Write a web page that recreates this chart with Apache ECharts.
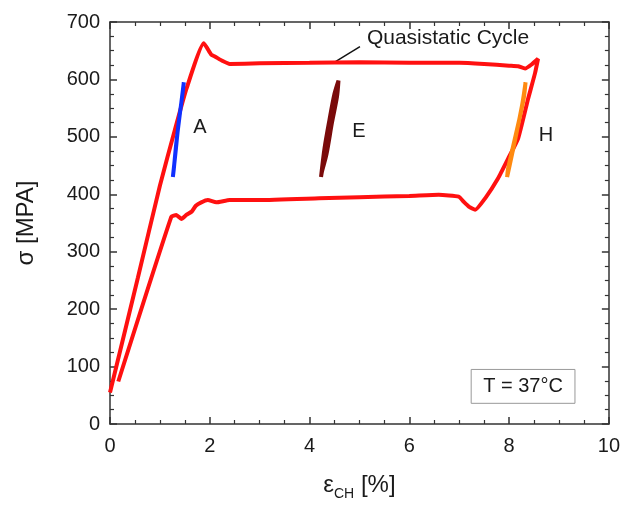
<!DOCTYPE html>
<html>
<head>
<meta charset="utf-8">
<script src="https://cdn.jsdelivr.net/npm/echarts@6/dist/echarts.min.js"></script>
<style>
  html, body { margin: 0; padding: 0; background: #fff; }
  #chart { width: 623px; height: 506px; }
</style>
</head>
<body>
<div id="chart"></div>
<script>
// quasistatic cycle: strain [%] / stress [MPa], walked around the loop
var cycleStrain = [0, 0.56, 1.0, 1.30, 1.53, 1.88, 2.03, 2.10, 2.26, 2.4, 3, 4, 5, 6, 7, 7.5, 8.0, 8.18, 8.32, 8.45, 8.58,
  8.52, 8.38, 8.18, 7.98, 7.78, 7.52, 7.32, 7.2, 7.09, 6.99, 6.59, 6, 5, 4.19, 3, 2.4, 2.13, 1.96, 1.83, 1.72, 1.64, 1.53, 1.43, 1.33, 1.23, 0.166];
var cycleStress = [55, 255, 415, 512, 583, 663, 643, 640, 632, 627, 628, 629, 630, 629, 629, 627, 624, 623, 619, 626, 636,
  611, 566, 497, 462, 428, 393, 373, 378, 387, 396, 399, 397, 395, 393, 390, 390, 386, 390, 386, 380, 370, 364, 357, 364, 361, 74];

// small loops A, E, H
var loopAStrain = [1.26, 1.31, 1.37, 1.43, 1.48, 1.46, 1.40, 1.33, 1.28, 1.26];
var loopAStress = [430, 470, 520, 560, 595, 580, 540, 490, 445, 430];
var loopEStrain = [4.23, 4.30, 4.40, 4.50, 4.58, 4.55, 4.45, 4.34, 4.25, 4.23];
var loopEStress = [430, 480, 530, 575, 598, 570, 525, 470, 440, 430];
var loopHStrain = [7.96, 8.06, 8.18, 8.27, 8.33, 8.29, 8.19, 8.07, 7.98, 7.96];
var loopHStress = [430, 470, 520, 560, 595, 565, 525, 480, 445, 430];

var xTicks = [0, 2, 4, 6, 8, 10];
var yTicks = [0, 100, 200, 300, 400, 500, 600, 700];

function pairs(xs, ys) {
  var out = [];
  for (var i = 0; i < xs.length; i++) out.push([xs[i], ys[i]]);
  return out;
}

var font = '"Liberation Sans", Arial, sans-serif';
var ink = '#1a1a1a';
var chart = echarts.init(document.getElementById('chart'));

function axisBase(extra) {
  var a = {
    type: 'value',
    axisLine: { show: true, onZero: false, lineStyle: { color: '#333', width: 1.5 } },
    axisTick: { show: true, inside: true, length: 7, lineStyle: { color: '#333', width: 1.5 } },
    minorTick: { show: true, splitNumber: 4, length: 4, lineStyle: { color: '#333', width: 1.2 } },
    splitLine: { show: false },
    axisLabel: { show: false }
  };
  for (var k in extra) a[k] = extra[k];
  return a;
}

var option = {
  animation: false,
  backgroundColor: '#fff',
  textStyle: { fontFamily: font, color: ink },
  grid: { left: 110, right: 12, top: 22, bottom: 78 },
  xAxis: [
    axisBase({
      min: xTicks[0], max: xTicks[xTicks.length - 1], interval: 2, position: 'bottom',
      axisLabel: { show: true, margin: 12, fontSize: 20, color: ink, fontFamily: font },
      name: '{e|ε}{s|CH}{t| [%]}',
      nameLocation: 'middle',
      nameGap: 45,
      nameTextStyle: {
        rich: {
          e: { fontSize: 24, fontFamily: font, color: ink, lineHeight: 32, verticalAlign: 'middle' },
          s: { fontSize: 14, fontFamily: font, color: ink, lineHeight: 32, verticalAlign: 'bottom' },
          t: { fontSize: 24, fontFamily: font, color: ink, lineHeight: 32, verticalAlign: 'middle' }
        }
      }
    }),
    axisBase({ min: xTicks[0], max: xTicks[xTicks.length - 1], interval: 2, position: 'top' })
  ],
  yAxis: [
    axisBase({
      min: yTicks[0], max: yTicks[yTicks.length - 1], interval: 100, position: 'left',
      axisLabel: { show: true, margin: 10, fontSize: 20, color: ink, fontFamily: font },
      name: 'σ [MPA]',
      nameLocation: 'middle',
      nameGap: 72,
      nameTextStyle: { fontSize: 24, fontFamily: font, color: ink }
    }),
    axisBase({ min: yTicks[0], max: yTicks[yTicks.length - 1], interval: 100, position: 'right' })
  ],
  series: [
    {
      name: 'Quasistatic Cycle', type: 'line', data: pairs(cycleStrain, cycleStress),
      showSymbol: false, smooth: 0.15, lineStyle: { color: '#ff1010', width: 4 }, z: 3
    },
    {
      name: 'A', type: 'line', data: pairs(loopAStrain, loopAStress),
      showSymbol: false, smooth: 0.3, lineStyle: { color: '#1030ff', width: 4 }, z: 4
    },
    {
      name: 'E', type: 'line', data: pairs(loopEStrain, loopEStress),
      showSymbol: false, smooth: 0.3, lineStyle: { color: '#7a0a0a', width: 4 }, z: 4
    },
    {
      name: 'H', type: 'line', data: pairs(loopHStrain, loopHStress),
      showSymbol: false, smooth: 0.3, lineStyle: { color: '#ff8a10', width: 4 }, z: 4
    }
  ]
};
chart.setOption(option);

// annotations placed via the axes
function px(x, y) { return chart.convertToPixel({ xAxisIndex: 0, yAxisIndex: 0 }, [x, y]); }
var labA = px(1.80, 517), labE = px(4.99, 510), labH = px(8.74, 503);
var qText = px(5.15, 671), lead0 = px(4.48, 629), lead1 = px(5.01, 657);
var boxTL = px(7.24, 95), boxBR = px(9.32, 36);
var txt = function (p, s) {
  return { type: 'text', x: p[0], y: p[1], style: { text: s, font: '20px ' + font, fill: ink, align: 'center', verticalAlign: 'middle' } };
};
chart.setOption({
  graphic: [
    txt(labA, 'A'), txt(labE, 'E'), txt(labH, 'H'),
    { type: 'text', x: qText[0], y: qText[1], style: { text: 'Quasistatic Cycle', font: '21px ' + font, fill: ink, align: 'left', verticalAlign: 'middle' } },
    { type: 'line', shape: { x1: lead0[0], y1: lead0[1], x2: lead1[0], y2: lead1[1] }, style: { stroke: '#111', lineWidth: 1.5 } },
    { type: 'rect', shape: { x: boxTL[0], y: boxTL[1], width: boxBR[0] - boxTL[0], height: boxBR[1] - boxTL[1] }, style: { fill: '#fff', stroke: '#999', lineWidth: 1 } },
    txt([(boxTL[0] + boxBR[0]) / 2, (boxTL[1] + boxBR[1]) / 2], 'T = 37°C')
  ]
});
</script>
</body>
</html>
